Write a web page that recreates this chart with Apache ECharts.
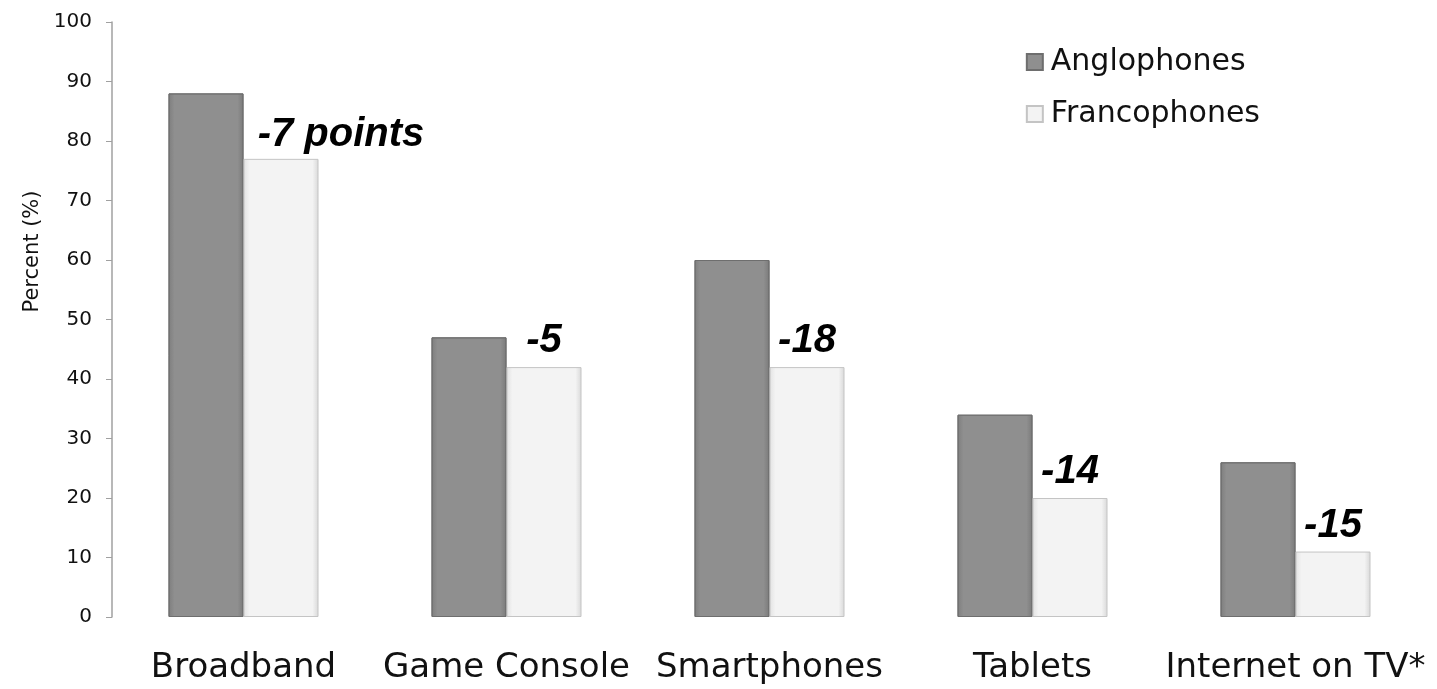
<!DOCTYPE html>
<html>
<head>
<meta charset="utf-8">
<script src="https://cdn.jsdelivr.net/npm/echarts@6/dist/echarts.min.js"></script>
<style>
    html, body { margin: 0; padding: 0; background: #fff; }
    #main { width: 1437px; height: 689px; }
</style>
</head>
<body>
<div id="main"></div>
<script>
// 数据
var categories = ['Broadband', 'Game Console', 'Smartphones', 'Tablets', 'Internet on TV*']
var anglophones = [88, 47, 60, 34, 26]
var francophones = [77, 42, 42, 20, 11]
var gapLabels = ['-7 points', '-5', '-18', '-14', '-15']
var yTicks = [0, 10, 20, 30, 40, 50, 60, 70, 80, 90, 100]

var myChart = echarts.init(document.getElementById('main'))

// 法语柱子 + 差值标注
var francData = francophones.map(function(v, i) {
    return {
        value: v,
        label: {
            formatter: gapLabels[i],
            offset: i === 0 ? [60, 0] : [0, -2]
        }
    }
})

var option = {
    backgroundColor: '#fff',
    textStyle: { fontFamily: 'DejaVu Sans' },
    legend: {
        orient: 'vertical',
        right: 172,
        top: 42,
        icon: 'rect',
        itemWidth: 16,
        itemHeight: 16,
        itemGap: 22,
        textStyle: { fontSize: 30, color: '#111', fontFamily: 'DejaVu Sans', padding: [0, 0, 0, 3] },
        data: ['Anglophones', 'Francophones']
    },
    grid: {
        left: 112,
        right: 10,
        top: 22,
        bottom: 72
    },
    xAxis: {
        type: 'category',
        data: categories,
        axisLine: { show: false },
        axisTick: { show: false },
        axisLabel: {
            fontSize: 34,
            color: '#111',
            margin: 34,
            interval: 0
        }
    },
    yAxis: {
        type: 'value',
        min: 0,
        max: 100,
        interval: 10,
        name: 'Percent (%)',
        nameLocation: 'middle',
        nameGap: 67,
        nameTextStyle: { fontSize: 21, color: '#111', padding: [0, 0, 0, 136] },
        axisLine: { show: true, lineStyle: { color: '#a0a0a0', width: 1.5 } },
        axisTick: { show: true, length: 6, lineStyle: { color: '#a0a0a0' } },
        splitLine: { show: false },
        axisLabel: {
            fontSize: 20,
            color: '#111',
            margin: 20,
            customValues: yTicks
        }
    },
    series: [
        {
            name: 'Anglophones',
            type: 'bar',
            barWidth: 75,
            barGap: '0%',
            itemStyle: {
                color: new echarts.graphic.LinearGradient(0, 0, 1, 0, [
                    { offset: 0, color: '#7e7e7e' },
                    { offset: 0.08, color: '#8f8f8f' },
                    { offset: 0.92, color: '#8f8f8f' },
                    { offset: 1, color: '#7a7a7a' }
                ]),
                borderColor: '#6e6e6e',
                borderWidth: 1
            },
            data: anglophones
        },
        {
            name: 'Francophones',
            type: 'bar',
            barWidth: 75,
            itemStyle: {
                color: new echarts.graphic.LinearGradient(0, 0, 1, 0, [
                    { offset: 0, color: '#e2e2e2' },
                    { offset: 0.08, color: '#f3f3f3' },
                    { offset: 0.92, color: '#f3f3f3' },
                    { offset: 1, color: '#d8d8d8' }
                ]),
                borderColor: '#c4c4c4',
                borderWidth: 1
            },
            label: {
                show: true,
                position: 'top',
                distance: 4,
                fontFamily: 'Liberation Sans',
                fontStyle: 'italic',
                fontWeight: 'bold',
                fontSize: 40,
                color: '#000'
            },
            data: francData
        }
    ]
}
myChart.setOption(option)
</script>
</body>
</html>
